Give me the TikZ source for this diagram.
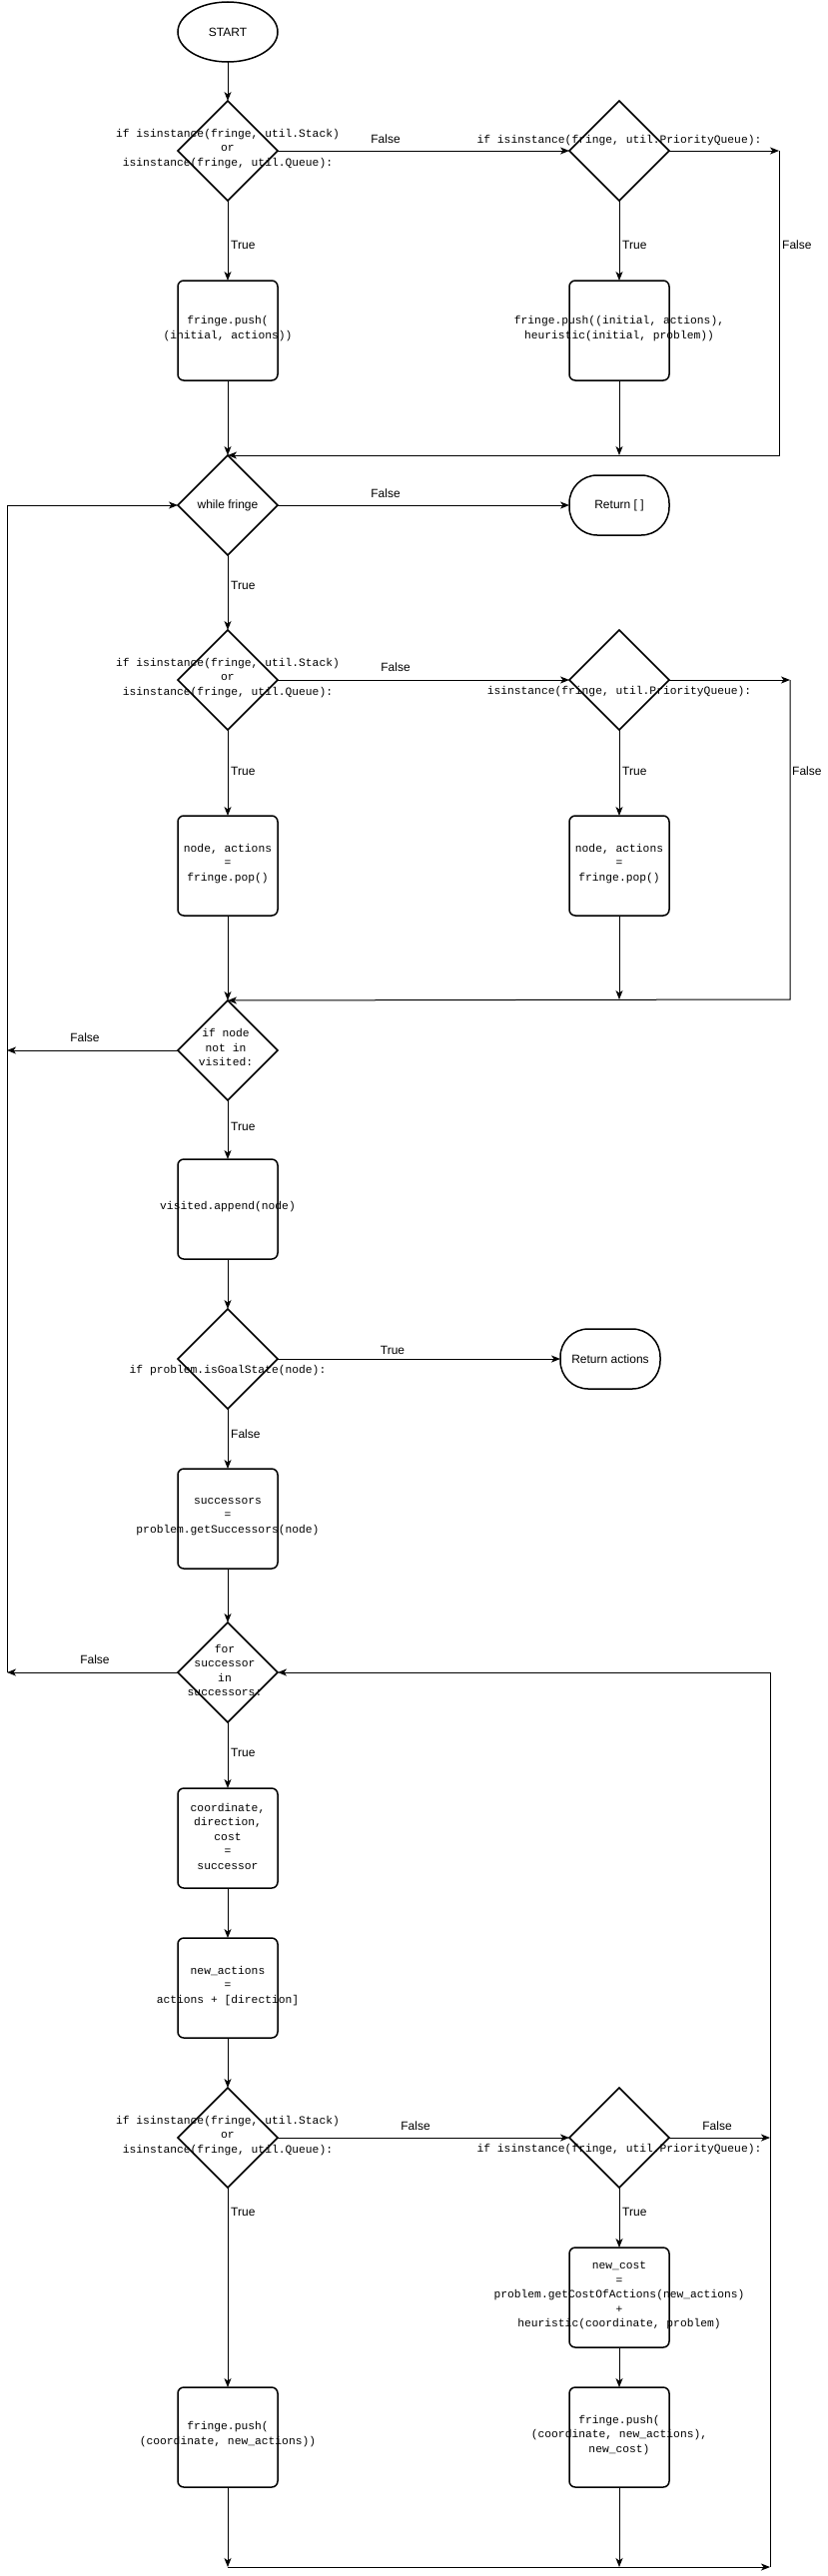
\documentclass[tikz,border=0pt]{standalone}
\usepackage{fontspec}
\setmainfont{Liberation Sans}
\newfontfamily\monof{Liberation Mono}
\usetikzlibrary{shapes.geometric,arrows.meta,calc}
\begin{document}
\begin{tikzpicture}[x=1pt,y=-1pt,
  shapeln/.style={draw, line width=1.5pt},
  dec/.style={shapeln, diamond, minimum width=100pt, minimum height=100pt, inner sep=0pt, outer sep=0pt},
  box/.style={shapeln, rectangle, rounded corners=6pt, minimum width=100pt, minimum height=100pt, inner sep=0pt, outer sep=0pt},
  term/.style={shapeln, rectangle, rounded corners=28pt, minimum width=100pt, minimum height=60pt, inner sep=0pt, outer sep=0pt, font=\fontsize{12}{14}\selectfont},
  startst/.style={shapeln, ellipse, minimum width=100pt, minimum height=60pt, inner sep=0pt, outer sep=0pt, font=\fontsize{12}{14}\selectfont},
  mono/.style={font=\monof\fontsize{11.3}{14.5}\selectfont, align=center, inner sep=0pt},
  lbl/.style={font=\fontsize{12}{14}\selectfont, inner sep=0pt},
  arr/.style={line width=1pt, -{Stealth[length=9pt,width=7pt,inset=2.5pt]}},
  ln/.style={line width=1pt}]
\useasboundingbox (0,0) rectangle (828,2580);

% ---------- shapes ----------
\node[startst] (start) at (228,32) {START};
\node[dec] (d1) at (228,151) {};
\node[dec] (d1r) at (620,151) {};
\node[box] (b1) at (228,331) {};
\node[box] (b2) at (620,331) {};
\node[dec] (wh) at (228,506) {};
\node[term] (ret) at (620,506) {Return [ ]};
\node[dec] (d2l) at (228,681) {};
\node[dec] (d2r) at (620,681) {};
\node[box] (pl) at (228,867) {};
\node[box] (pr) at (620,867) {};
\node[dec] (vis) at (228,1052) {};
\node[box] (app) at (228,1211) {};
\node[dec] (goal) at (228,1361) {};
\node[term] (ra) at (611,1361) {Return actions};
\node[box] (succ) at (228,1521) {};
\node[dec] (fr) at (228,1675) {};
\node[box] (coord) at (228,1841) {};
\node[box] (na) at (228,1991) {};
\node[dec] (d3l) at (228,2141) {};
\node[dec] (d3r) at (620,2141) {};
\node[box] (cost) at (620,2301) {};
\node[box] (pushl) at (228,2441) {};
\node[box] (pushr) at (620,2441) {};

% ---------- texts ----------
\node[mono] at (228,149) {if isinstance(fringe, util.Stack)\\or\\isinstance(fringe, util.Queue):};
\node[mono] at (620,141) {if isinstance(fringe, util.PriorityQueue):};
\node[mono] at (228,329) {fringe.push(\\(initial, actions))};
\node[mono] at (620,329) {fringe.push((initial, actions),\\heuristic(initial, problem))};
\node[lbl] at (228,506) {while fringe};
\node[mono] at (228,679) {if isinstance(fringe, util.Stack)\\or\\isinstance(fringe, util.Queue):};
\node[mono] at (620,693) {isinstance(fringe, util.PriorityQueue):};
\node[mono] at (228,865) {node, actions\\=\\fringe.pop()};
\node[mono] at (620,865) {node, actions\\=\\fringe.pop()};
\node[mono] at (226,1049) {if node\\not in\\visited:};
\node[mono] at (228,1209) {visited.append(node)};
\node[mono] at (228,1373) {if problem.isGoalState(node):};
\node[mono] at (228,1519) {successors\\=\\problem.getSuccessors(node)};
\node[mono] at (225,1673) {for\\successor\\in\\successors:};
\node[mono] at (228,1839) {coordinate,\\direction,\\cost\\=\\successor};
\node[mono] at (228,1989) {new\_actions\\=\\actions + [direction]};
\node[mono] at (228,2139) {if isinstance(fringe, util.Stack)\\or\\isinstance(fringe, util.Queue):};
\node[mono] at (620,2153) {if isinstance(fringe, util.PriorityQueue):};
\node[mono] at (620,2299) {new\_cost\\=\\problem.getCostOfActions(new\_actions)\\+\\heuristic(coordinate, problem)};
\node[mono] at (228,2438) {fringe.push(\\(coordinate, new\_actions))};
\node[mono] at (620,2439) {fringe.push(\\(coordinate, new\_actions),\\new\_cost)};

% ---------- helper points ----------
\coordinate (r1) at (780,151);
\coordinate (r1b) at (780,456);
\coordinate (m1) at (620,456);
\coordinate (r2) at (791,681);
\coordinate (r2b) at (791,1001);
\coordinate (m2) at (620,1001);
\coordinate (L0) at (7,506);
\coordinate (L1) at (7,1052);
\coordinate (L2) at (7,1675);
\coordinate (B1) at (228,2571);
\coordinate (B2) at (620,2571);
\coordinate (B3) at (771,2571);
\coordinate (R3) at (771,2141);
\coordinate (R4) at (771,1675);

% ---------- connectors ----------
\draw[arr] (start.south) -- (d1.north);
\draw[arr] (d1.east) -- (d1r.west);
\draw[arr] (d1r.east) -- (r1);
\draw[arr] (r1) -- (r1b) -- (wh.north);
\draw[arr] (d1.south) -- (b1.north);
\draw[arr] (d1r.south) -- (b2.north);
\draw[arr] (b1.south) -- (wh.north);
\draw[arr] (b2.south) -- (m1);

\draw[arr] (wh.east) -- (ret.west);
\draw[arr] (wh.south) -- (d2l.north);
\draw[arr] (d2l.east) -- (d2r.west);
\draw[arr] (d2r.east) -- (r2);
\draw[arr] (r2) -- (r2b) -- (vis.north);
\draw[arr] (d2l.south) -- (pl.north);
\draw[arr] (d2r.south) -- (pr.north);
\draw[arr] (pl.south) -- (vis.north);
\draw[arr] (pr.south) -- (m2);

\draw[arr] (vis.west) -- (L1);
\draw[arr] (fr.west) -- (L2);
\draw[arr] (L2) -- (L0) -- (wh.west);
\draw[arr] (vis.south) -- (app.north);
\draw[arr] (app.south) -- (goal.north);
\draw[arr] (goal.east) -- (ra.west);
\draw[arr] (goal.south) -- (succ.north);
\draw[arr] (succ.south) -- (fr.north);
\draw[arr] (fr.south) -- (coord.north);
\draw[arr] (coord.south) -- (na.north);
\draw[arr] (na.south) -- (d3l.north);
\draw[arr] (d3l.east) -- (d3r.west);
\draw[arr] (d3r.east) -- (R3);
\draw[arr] (d3l.south) -- (pushl.north);
\draw[arr] (d3r.south) -- (cost.north);
\draw[arr] (cost.south) -- (pushr.north);
\draw[arr] (pushl.south) -- (B1);
\draw[arr] (pushr.south) -- (B2);
\draw[arr] (B1) -- (B3);
\draw[arr] (B3) -- (R4) -- (fr.east);

% ---------- connector labels ----------
\node[lbl] at (386,139) {False};
\node[lbl, anchor=west] at (231,245) {True};
\node[lbl, anchor=west] at (623,245) {True};
\node[lbl, anchor=west] at (783,245) {False};
\node[lbl] at (386,494) {False};
\node[lbl, anchor=west] at (231,586) {True};
\node[lbl] at (396,668) {False};
\node[lbl, anchor=west] at (231,772) {True};
\node[lbl, anchor=west] at (623,772) {True};
\node[lbl, anchor=west] at (793,772) {False};
\node[lbl] at (85,1039) {False};
\node[lbl, anchor=west] at (231,1128) {True};
\node[lbl] at (393,1352) {True};
\node[lbl, anchor=west] at (231,1436) {False};
\node[lbl] at (95,1662) {False};
\node[lbl, anchor=west] at (231,1755) {True};
\node[lbl] at (416,2129) {False};
\node[lbl] at (718,2129) {False};
\node[lbl, anchor=west] at (231,2215) {True};
\node[lbl, anchor=west] at (623,2215) {True};
\end{tikzpicture}
\end{document}
